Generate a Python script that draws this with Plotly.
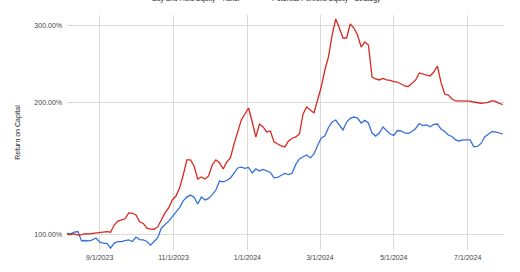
import pandas as pd
import plotly.graph_objects as go

# Observation dates (every 3 days)
dates = pd.date_range("2023-08-05", periods=121, freq="3D")

# Buy and Hold Equity (% return on capital)
buy_hold = [
    100.6, 100.3, 101.3, 101.6, 96.7, 96.9, 96.7, 97.2, 98.2, 96.1,
    95.6, 95.5, 93.1, 95.6, 96.3, 96.3, 96.9, 97.2, 96.4, 98.7,
    97.4, 97.2, 96.4, 94.6, 96.4, 98.4, 103.5, 105.4, 107.3, 109.9,
    112.5, 115.2, 119.3, 121.7, 123.0, 121.7, 117.4, 121.7, 119.9, 120.9,
    123.3, 126.3, 132.4, 131.8, 132.8, 134.6, 138.1, 141.8, 142.4, 141.6,
    142.2, 138.1, 141.1, 139.6, 140.7, 139.8, 138.5, 134.6, 134.9, 136.5,
    137.8, 137.0, 138.1, 144.5, 148.7, 150.4, 151.8, 149.5, 152.6, 159.6,
    166.0, 167.7, 175.4, 180.5, 182.4, 177.7, 173.1, 180.5, 184.1, 185.3,
    184.3, 179.6, 182.1, 179.6, 170.4, 167.7, 170.4, 175.9, 173.1, 169.5,
    168.2, 172.6, 172.2, 170.4, 169.9, 171.7, 174.5, 179.1, 177.2, 177.7,
    176.1, 178.2, 178.6, 174.0, 171.7, 168.6, 167.3, 164.3, 163.4, 164.3,
    164.3, 164.3, 158.4, 158.8, 161.3, 166.9, 169.3, 171.7, 171.5, 170.4,
    169.5,
]

# Potential Portfolio Equity - Strategy (% return on capital)
strategy = [
    100.1, 100.0, 100.3, 99.7, 100.0, 100.5, 100.3, 100.5, 100.8, 101.1,
    101.2, 101.5, 101.2, 105.1, 107.3, 107.9, 108.6, 112.0, 111.8, 110.8,
    106.9, 106.0, 103.4, 102.9, 102.8, 104.2, 107.9, 112.0, 115.0, 119.9,
    122.4, 127.6, 136.7, 147.9, 147.9, 143.3, 133.8, 135.3, 133.8, 136.0,
    144.1, 147.9, 145.6, 141.1, 146.4, 149.5, 160.9, 172.2, 182.4, 188.3,
    194.3, 180.5, 166.9, 178.6, 175.9, 171.3, 172.2, 162.6, 160.9, 159.2,
    158.4, 163.4, 165.8, 166.9, 169.5, 188.3, 195.4, 192.3, 189.3, 202.6,
    216.9, 237.2, 254.0, 285.0, 310.0, 295.7, 280.6, 280.6, 302.0, 295.7,
    285.0, 267.6, 274.7, 270.4, 228.6, 226.3, 225.1, 226.9, 225.1, 224.5,
    223.1, 222.7, 220.4, 218.1, 217.4, 221.0, 225.1, 233.5, 232.2, 231.0,
    229.8, 234.7, 242.2, 221.9, 209.1, 208.0, 203.7, 201.6, 201.6, 201.6,
    201.6, 201.4, 200.5, 199.8, 199.2, 199.5, 200.2, 201.9, 201.1, 199.0,
    197.9,
]

x_tick_vals = ["2023-09-01", "2023-11-01", "2024-01-01", "2024-03-01", "2024-05-01", "2024-07-01"]
x_tick_text = ["9/1/2023", "11/1/2023", "1/1/2024", "3/1/2024", "5/1/2024", "7/1/2024"]
y_tick_vals = [100, 200, 300]
y_tick_text = ["100.00%", "200.00%", "300.00%"]
series_names = ["Buy and Hold Equity - Ticker", "Potential Portfolio Equity - Strategy"]

BLUE = "#3670d8"
RED = "#d7281f"
FONT = "Arial, Liberation Sans, sans-serif"

fig = go.Figure()
fig.add_trace(go.Scatter(x=dates, y=buy_hold, mode="lines", name=series_names[0],
                         line=dict(color=BLUE, width=1.3)))
fig.add_trace(go.Scatter(x=dates, y=strategy, mode="lines", name=series_names[1],
                         line=dict(color=RED, width=1.3)))

fig.update_layout(
    width=520, height=272,
    margin=dict(l=67, r=16, t=15, b=22),
    paper_bgcolor="white", plot_bgcolor="white",
    showlegend=False,
    font=dict(family=FONT, size=7, color="#444"),
)
fig.update_xaxes(
    range=["2023-08-05", "2024-07-31"],
    tickvals=x_tick_vals, ticktext=x_tick_text,
    showgrid=True, gridcolor="#d9d9d9", gridwidth=1,
    zeroline=False, showline=False, ticks="",
    ticklabelstandoff=2,
    tickfont=dict(size=7, color="#444"),
)
fig.update_yaxes(
    type="log", range=[1.9647, 2.5005],
    tickvals=y_tick_vals, ticktext=y_tick_text,
    showgrid=True, gridcolor="#d9d9d9", gridwidth=1,
    zeroline=False, showline=False, ticks="",
    ticklabelstandoff=4,
    tickfont=dict(size=7, color="#444"),
    title=dict(text="Return on Capital", font=dict(size=7, color="#222"), standoff=12),
)

# Legend (cut off at top of the image, as in the reference)
fig.add_annotation(xref="paper", yref="paper", x=(150 - 67) / 437, y=1 + 16 / 235,
                   text=series_names[0], showarrow=False, xanchor="left", yanchor="middle",
                   font=dict(size=7, color="#222", family=FONT))
fig.add_annotation(xref="paper", yref="paper", x=(270 - 67) / 437, y=1 + 16 / 235,
                   text=series_names[1], showarrow=False, xanchor="left", yanchor="middle",
                   font=dict(size=7, color="#222", family=FONT))

fig.write_html("out.html")
